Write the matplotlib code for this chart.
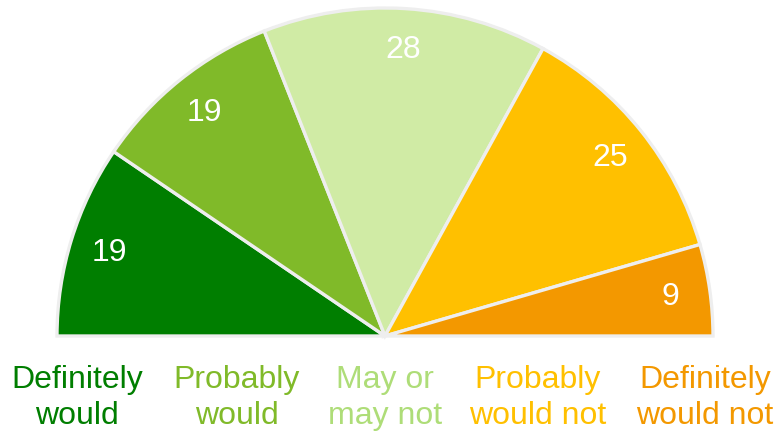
import matplotlib.pyplot as plt
import numpy as np

plt.rcParams['font.family'] = ['Liberation Sans', 'DejaVu Sans']

# 数据
categories = ['Definitely\nwould', 'Probably\nwould', 'May or\nmay not',
              'Probably\nwould not', 'Definitely\nwould not']
values = [19, 19, 28, 25, 9]
slice_colors = ['#007E00', '#80BA29', '#D0EBA5', '#FFC000', '#F39800']
text_colors = ['#007E00', '#80BA29', '#AEDD78', '#FFC000', '#F39800']
label_x = [77, 237, 385, 538, 705]

fig = plt.figure(figsize=(7.77, 4.32), dpi=100)
ax = fig.add_axes([0, 0, 1, 1])

# 半圆饼图：只占一半
fracs = np.array(values) / (2 * sum(values))
wedges, _ = ax.pie(fracs, colors=slice_colors, startangle=180, counterclock=False,
                   normalize=False, center=(385, 96), radius=328,
                   wedgeprops=dict(edgecolor='#EEEEEE', linewidth=2.4))

# 数值标签
for w, v in zip(wedges, values):
    ang = np.deg2rad((w.theta1 + w.theta2) / 2)
    r = 0.88 * w.r
    ax.text(w.center[0] + r * np.cos(ang), w.center[1] + r * np.sin(ang) - 2, str(v),
            color='white', fontsize=23, ha='center', va='center')

# 底部类别
for x, lab, c in zip(label_x, categories, text_colors):
    ax.text(x, 34, lab, color=c, fontsize=23, ha='center', va='center',
            linespacing=1.24)

ax.set_xlim(0, 777)
ax.set_ylim(0, 432)
ax.set_aspect('equal')
ax.axis('off')

plt.savefig('out.png', dpi=100)
